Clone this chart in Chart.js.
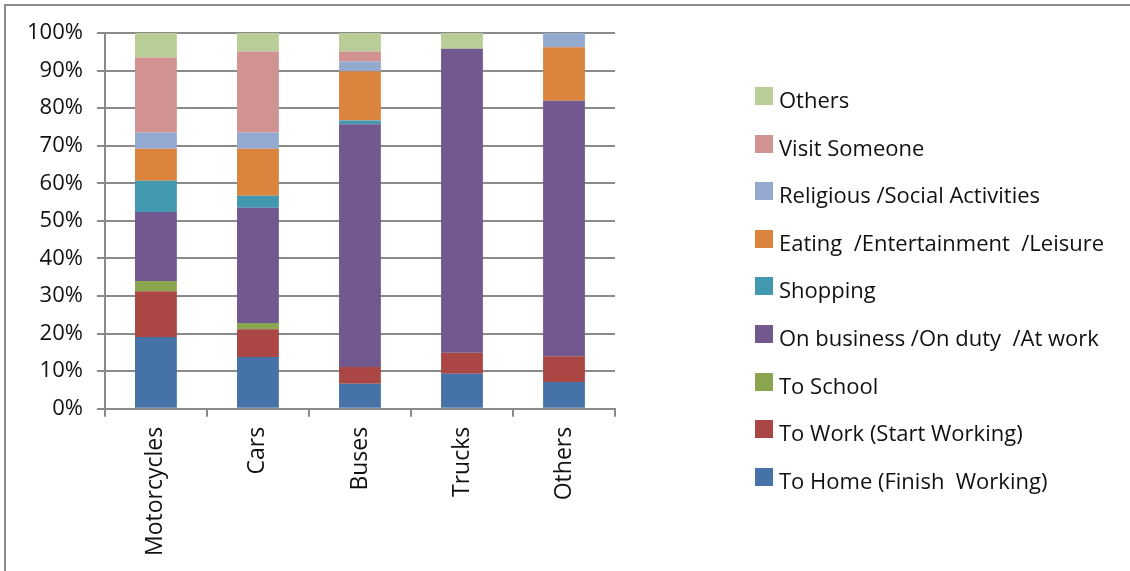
<!DOCTYPE html>
<html lang="en">
<head>
    <meta charset="UTF-8">
    <title>Trip purpose by vehicle type</title>
    <script src="https://cdn.jsdelivr.net/npm/chart.js"></script>
    <style>
        body { margin: 0; background: #fff; }
        #wrap { position: relative; width: 1130px; height: 571px; }
        #frame {
            position: absolute; left: 4px; top: 4px; right: 0; bottom: -4px;
            border-top: 2px solid #8a8a8a; border-left: 2px solid #8a8a8a;
            pointer-events: none;
        }
        #legend {
            position: absolute; left: 755px; top: 84px;
            font-family: "Open Sans", sans-serif; font-size: 22px; color: #111;
        }
        .item { height: 47.6px; display: flex; align-items: flex-start; white-space: pre; }
        .box { width: 18px; height: 18px; margin: 3px 6px 0 0; flex: none; }
    </style>
</head>
<body>

<div id="wrap">
    <canvas id="graphique"></canvas>
    <div id="frame"></div>
    <div id="legend"></div>
</div>

<script>
    // vehicle types
    const vehicules = ['Motorcycles', 'Cars', 'Buses', 'Trucks', 'Others'];
    const ticksY = [0, 10, 20, 30, 40, 50, 60, 70, 80, 90, 100];

    // share of trips (%) per purpose, same order as vehicules
    const toHome     = [19.1, 13.8,  6.7,  9.3,  7.1];
    const toWork     = [12.2,  7.4,  4.4,  5.6,  6.9];
    const toSchool   = [ 2.7,  1.6,  0,    0,    0  ];
    const onBusiness = [18.4, 30.7, 64.6, 80.9, 68.0];
    const shopping   = [ 8.3,  3.2,  1.0,  0,    0  ];
    const eating     = [ 8.5, 12.5, 13.1,  0,   14.2];
    const religious  = [ 4.3,  4.3,  2.6,  0,    3.8];
    const visit      = [20.0, 21.6,  2.7,  0,    0  ];
    const others     = [ 6.5,  4.9,  4.9,  4.2,  0  ];

    const series = [
        { label: 'To Home (Finish  Working)', data: toHome, color: '#4572a7' },
        { label: 'To Work (Start Working)', data: toWork, color: '#aa4643' },
        { label: 'To School', data: toSchool, color: '#89a54e' },
        { label: 'On business /On duty  /At work', data: onBusiness, color: '#71588f' },
        { label: 'Shopping', data: shopping, color: '#4198af' },
        { label: 'Eating  /Entertainment  /Leisure', data: eating, color: '#db843d' },
        { label: 'Religious /Social Activities', data: religious, color: '#93a9cf' },
        { label: 'Visit Someone', data: visit, color: '#d19392' },
        { label: 'Others', data: others, color: '#b9cd96' }
    ];

    const police = { family: '"Open Sans", sans-serif', size: 22 };

    const ctx = document.getElementById('graphique').getContext('2d');
    const chart = new Chart(ctx, {
        type: 'bar',
        data: {
            labels: vehicules,
            datasets: series.map(s => ({
                label: s.label,
                data: s.data,
                backgroundColor: s.color,
                borderWidth: 0,
                barPercentage: 0.41,
                categoryPercentage: 1
            }))
        },
        options: {
            responsive: true,
            maintainAspectRatio: false,
            animation: false,
            layout: { padding: { left: 13, top: 33, right: 515, bottom: 5 } },
            scales: {
                x: {
                    stacked: true,
                    grid: { offset: true, drawOnChartArea: false, color: '#8a8a8a', lineWidth: 2, tickLength: 8 },
                    border: { color: '#8a8a8a', width: 2 },
                    ticks: { color: '#111', font: { family: police.family, size: 23 }, minRotation: 90, maxRotation: 90, padding: 10 }
                },
                y: {
                    stacked: true,
                    min: 0,
                    max: 100,
                    afterBuildTicks: axis => { axis.ticks = ticksY.map(v => ({ value: v })); },
                    grid: { color: '#8a8a8a', lineWidth: 2, tickLength: 8 },
                    border: { color: '#8a8a8a', width: 2 },
                    ticks: { color: '#111', font: police, padding: 14, callback: v => v + '%' }
                }
            },
            plugins: {
                legend: { display: false },
                tooltip: { enabled: false }
            }
        }
    });

    // legend, top to bottom in reverse stacking order
    const legende = document.getElementById('legend');
    series.slice().reverse().forEach(s => {
        const item = document.createElement('div');
        item.className = 'item';
        item.innerHTML = '<span class="box" style="background:' + s.color + '"></span><span>' + s.label + '</span>';
        legende.appendChild(item);
    });
</script>

</body>
</html>
